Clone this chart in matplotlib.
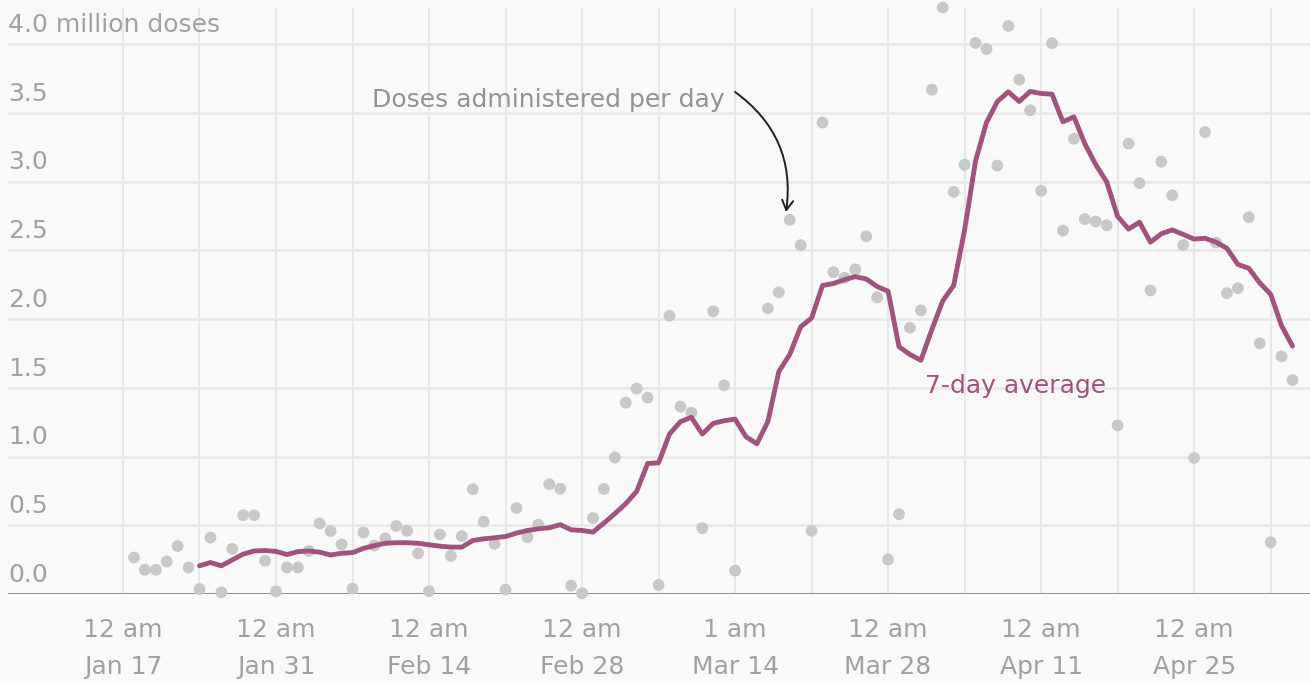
import numpy as np
import matplotlib.pyplot as plt
from matplotlib.patches import FancyArrowPatch

plt.rcParams['font.family'] = ['DejaVu Sans']

# Daily doses administered (millions), one value per day starting Jan 18
# (no figure shown for Mar 15 and Mar 16)
dose_start = np.datetime64('2021-01-18')
doses = [
    0.265, 0.176, 0.176, 0.236, 0.349, 0.193, 0.036, 0.410, 0.012, 0.328,
    0.573, 0.573, 0.243, 0.019, 0.193, 0.193, 0.313, 0.513, 0.458, 0.361,
    0.039, 0.448, 0.352, 0.405, 0.494, 0.460, 0.296, 0.020, 0.433, 0.277,
    0.421, 0.762, 0.526, 0.365, 0.032, 0.625, 0.414, 0.504, 0.798, 0.766,
    0.061, 0.005, 0.552, 0.764, 0.993, 1.392, 1.494, 1.428, 0.066, 2.024,
    1.363, 1.319, 0.479, 2.056, 1.518, 0.170, np.nan, np.nan, 2.077, 2.194,
    2.721, 2.537, 0.460, 3.429, 2.341, 2.300, 2.361, 2.601, 2.157, 0.251,
    0.580, 1.937, 2.063, 3.668, 4.265, 2.924, 3.122, 4.008, 3.964, 3.116,
    4.131, 3.741, 3.518, 2.932, 4.006, 2.643, 3.311, 2.726, 2.709, 2.682,
    1.226, 3.275, 2.988, 2.208, 3.144, 2.899, 2.537, 0.990, 3.359, 2.556,
    2.188, 2.224, 2.740, 1.823, 0.376, 1.728, 1.555,
]

# 7-day average (millions), one value per day starting Jan 24
avg_start = np.datetime64('2021-01-24')
avg7 = [
    0.205, 0.229, 0.205, 0.248, 0.290, 0.313, 0.316, 0.310, 0.287, 0.308,
    0.313, 0.304, 0.284, 0.296, 0.301, 0.332, 0.352, 0.369, 0.373, 0.373,
    0.369, 0.358, 0.348, 0.341, 0.341, 0.389, 0.401, 0.409, 0.418, 0.443,
    0.462, 0.474, 0.482, 0.504, 0.467, 0.462, 0.450, 0.516, 0.584, 0.657,
    0.747, 0.949, 0.954, 1.163, 1.253, 1.285, 1.163, 1.241, 1.260, 1.272,
    1.143, 1.093, 1.254, 1.617, 1.742, 1.943, 2.007, 2.244, 2.258, 2.286,
    2.308, 2.291, 2.236, 2.202, 1.798, 1.742, 1.700, 1.923, 2.132, 2.244,
    2.648, 3.150, 3.429, 3.582, 3.652, 3.582, 3.655, 3.640, 3.635, 3.434,
    3.470, 3.275, 3.122, 2.997, 2.746, 2.654, 2.704, 2.559, 2.620, 2.648,
    2.615, 2.581, 2.587, 2.559, 2.514, 2.397, 2.369, 2.263, 2.180, 1.951,
    1.803,
]

# Axis ticks
ref_date = np.datetime64('2021-01-17')
x_tick_dates = ['2021-01-17', '2021-01-31', '2021-02-14', '2021-02-28',
                '2021-03-14', '2021-03-28', '2021-04-11', '2021-04-25']
x_tick_times = ['12 am', '12 am', '12 am', '12 am', '1 am', '12 am', '12 am', '12 am']
x_tick_days = ['Jan 17', 'Jan 31', 'Feb 14', 'Feb 28', 'Mar 14', 'Mar 28', 'Apr 11', 'Apr 25']
y_ticks = [0.0, 0.5, 1.0, 1.5, 2.0, 2.5, 3.0, 3.5, 4.0]
y_labels = ['0.0', '0.5', '1.0', '1.5', '2.0', '2.5', '3.0', '3.5', '4.0 million doses']


def day_offset(start, n):
    return (start - ref_date).astype(int) + np.arange(n)


dose_x = day_offset(dose_start, len(doses))
avg_x = day_offset(avg_start, len(avg7))
tick_x = [(np.datetime64(d) - ref_date).astype(int) for d in x_tick_dates]
week_x = np.arange(0, 106, 7)

BG = '#f9f9f9'
GRID = '#e7e7e7'
TXT = '#a0a0a0'
PURPLE = '#a2527f'
DOT = '#c8c8c8'
FS = 18

W, H = 1310, 683
fig = plt.figure(figsize=(W / 100, H / 100), dpi=100, facecolor=BG)
ax = fig.add_axes([8 / W, 1 - 594 / H, 1 - 8 / W, 594 / H])
ax.set_facecolor(BG)
x0, x1 = -10.52, 108.6
ax.set_xlim(x0, x1)
ax.set_ylim(0, 594 / 137.5)
ax.axis('off')

# grid
ax.vlines(week_x, 0, 586 / 137.5, color=GRID, lw=1.5, zorder=0)
ax.hlines(y_ticks[1:], x0, x1, color=GRID, lw=1.8, zorder=0)
ax.hlines([0], x0, x1, color='#8c8c8c', lw=1.4, zorder=1)

# data
ax.scatter(dose_x, doses, s=72, color=DOT, edgecolors='none', zorder=2, clip_on=False)
ax.plot(avg_x, avg7, color=PURPLE, lw=3.5, zorder=3,
        solid_joinstyle='round', solid_capstyle='round')

# y labels sit just above each gridline
for v, lab in zip(y_ticks, y_labels):
    ax.text(x0, v + 0.14, lab, ha='left', va='center', fontsize=FS, color=TXT)

# x labels
for d, t, day in zip(tick_x, x_tick_times, x_tick_days):
    ax.text(d, -0.262, t, ha='center', va='center', fontsize=FS, color=TXT, clip_on=False)
    ax.text(d, -0.531, day, ha='center', va='center', fontsize=FS, color=TXT, clip_on=False)

# annotations
ax.text(55.0, 3.593, 'Doses administered per day', ha='right', va='center',
        fontsize=FS, color='#929292')
arrow = FancyArrowPatch(posA=(56.0, 3.651), posB=(60.66, 2.778),
                        connectionstyle='arc3,rad=-0.3',
                        arrowstyle='->,head_length=7,head_width=4',
                        lw=1.4, color='#1e1e1e', shrinkA=0, shrinkB=0, zorder=4)
ax.add_patch(arrow)
ax.text(73.4, 1.513, '7-day average', ha='left', va='center', fontsize=FS, color=PURPLE)

fig.savefig('out.png', dpi=100, facecolor=BG)
